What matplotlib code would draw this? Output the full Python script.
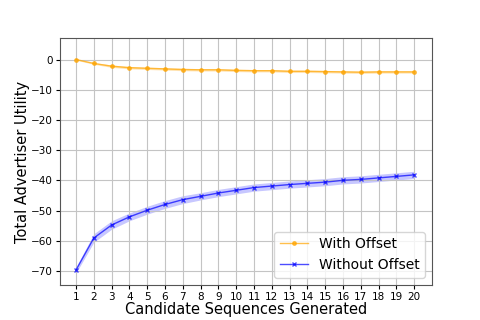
import matplotlib
matplotlib.use('Agg')
import matplotlib.pyplot as plt
import numpy as np

candidates = list(range(1, 21))

with_offset = [0.0, -1.3, -2.2, -2.7, -2.9, -3.1, -3.3, -3.4, -3.4, -3.6,
               -3.7, -3.7, -3.9, -3.9, -4.0, -4.1, -4.2, -4.1, -4.1, -4.1]
with_offset_err = [0.2, 0.3, 0.4, 0.4, 0.4, 0.4, 0.4, 0.4, 0.4, 0.4,
                   0.4, 0.4, 0.4, 0.4, 0.4, 0.4, 0.4, 0.4, 0.4, 0.4]

without_offset = [-69.7, -59.1, -54.8, -52.1, -49.9, -48.0, -46.4, -45.3, -44.2, -43.3,
                  -42.4, -41.9, -41.4, -41.0, -40.6, -40.0, -39.7, -39.2, -38.7, -38.2]
without_offset_err = [1.0, 1.4, 1.4, 1.3, 1.3, 1.3, 1.3, 1.2, 1.2, 1.2,
                      1.2, 1.2, 1.2, 1.2, 1.2, 1.2, 1.2, 1.2, 1.2, 1.2]

fig, ax = plt.subplots(figsize=(4.8, 3.2), dpi=100)

x = np.array(candidates)
wo = np.array(with_offset)
woe = np.array(with_offset_err)
no = np.array(without_offset)
noe = np.array(without_offset_err)

ax.plot(x, wo, color='orange', marker='.', markersize=5, linewidth=1,
        alpha=0.7, label='With Offset')
ax.fill_between(x, wo - woe, wo + woe, color='orange', alpha=0.3, linewidth=0)

ax.plot(x, no, color='blue', marker='x', markersize=3, linewidth=1,
        alpha=0.7, label='Without Offset')
ax.fill_between(x, no - noe, no + noe, color='blue', alpha=0.22, linewidth=0)

ax.set_xticks(candidates)
ax.set_xlim(0.1, 21)
ax.set_ylim(-74.6, 7)
ax.tick_params(labelsize=7.5, length=3, pad=2)
ax.grid(True, color='#c4c4c4', linewidth=0.8)
for s in ax.spines.values():
    s.set_color('#555555')
ax.set_xlabel('Candidate Sequences Generated', fontsize=10.5, labelpad=0)
ax.set_ylabel('Total Advertiser Utility', fontsize=10.5, labelpad=1)
ax.legend(loc='lower right', fontsize=10)
fig.subplots_adjust(left=0.125, right=0.9, top=0.88, bottom=0.11)

plt.savefig('out.png', dpi=100)
plt.close()
